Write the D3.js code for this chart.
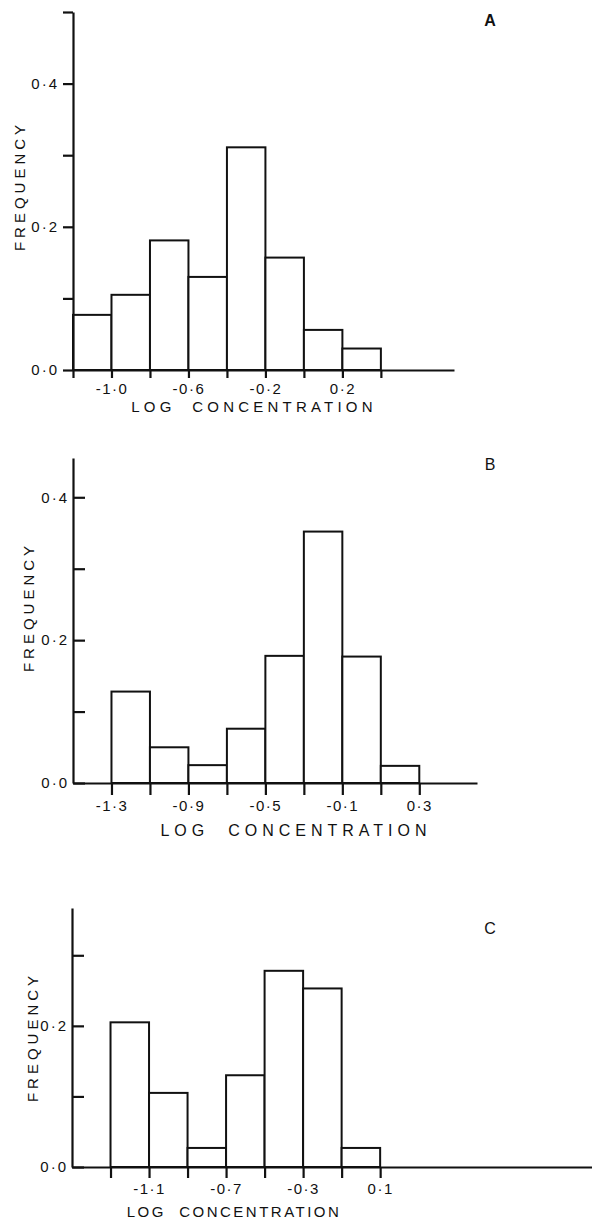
<!DOCTYPE html>
<html>
<head>
<meta charset="utf-8">
<script src="https://cdn.jsdelivr.net/npm/d3@7"></script>
<style>
  body { margin: 0; background: #fff; }
  svg { display: block; font-family: "Liberation Sans", Arial, sans-serif; }
  .axis path, .axis line { stroke: #111; stroke-width: 2.2; }
  .axis text { fill: #111; font-size: 15px; letter-spacing: 1.5px; }
</style>
</head>
<body>
<script>
// bin width of every histogram (log units)
const binWidth = 0.2;

// panel A
const binStartA = [-1.2, -1.0, -0.8, -0.6, -0.4, -0.2, 0.0, 0.2];
const freqA = [0.077, 0.105, 0.181, 0.130, 0.311, 0.157, 0.056, 0.030];
const xLabelsA = [-1.0, -0.6, -0.2, 0.2];
const yTicksA = [0, 0.1, 0.2, 0.3, 0.4, 0.5];
const yLabelsA = [0, 0.2, 0.4];

// panel B
const binStartB = [-1.3, -1.1, -0.9, -0.7, -0.5, -0.3, -0.1, 0.1];
const freqB = [0.128, 0.050, 0.025, 0.076, 0.178, 0.352, 0.177, 0.024];
const xLabelsB = [-1.3, -0.9, -0.5, -0.1, 0.3];
const yTicksB = [0, 0.1, 0.2, 0.3, 0.4];
const yLabelsB = [0, 0.2, 0.4];

// panel C
const binStartC = [-1.3, -1.1, -0.9, -0.7, -0.5, -0.3, -0.1];
const freqC = [0.205, 0.105, 0.027, 0.130, 0.278, 0.253, 0.027];
const xLabelsC = [-1.1, -0.7, -0.3, 0.1];
const yTicksC = [0, 0.1, 0.2, 0.3];
const yLabelsC = [0, 0.2];

const W = 592, H = 1222;
const svg = d3.select('body').append('svg').attr('width', W).attr('height', H);

const fmt = (d) => (d < 0 ? '-' : '') + Math.abs(d).toFixed(1).replace('.', '·');
const same = (a, b) => Math.abs(a - b) < 1e-6;

function drawPanel(p) {
  const g = svg.append('g');
  const x = d3.scaleLinear().domain(p.xDomain).range([p.left, p.right]);
  const y = d3.scaleLinear().domain(p.yDomain).range([p.bottom, p.top]);

  // bars
  g.selectAll('rect.bar')
    .data(p.starts.map((s, i) => ({ s: s, f: p.freq[i] })))
    .enter()
    .append('rect')
    .attr('class', 'bar')
    .attr('x', (d) => x(d.s))
    .attr('width', (d) => x(d.s + binWidth) - x(d.s))
    .attr('y', (d) => y(d.f))
    .attr('height', (d) => y(0) - y(d.f))
    .attr('fill', '#fff')
    .attr('stroke', '#111')
    .attr('stroke-width', 2);

  // x axis, a tick at every bin edge
  const edges = p.starts.concat([p.starts[p.starts.length - 1] + binWidth]);
  const xAxis = d3.axisBottom(x)
    .tickValues(edges)
    .tickSizeInner(p.xTick)
    .tickSizeOuter(0)
    .tickPadding(5)
    .tickFormat((d) => (p.xLabels.some((v) => same(v, d)) ? fmt(d) : ''));
  g.append('g').attr('class', 'axis')
    .attr('transform', `translate(0,${p.bottom})`)
    .call(xAxis)
    .selectAll('text').attr('font-size', p.tickFont);

  // y axis
  const yAxis = d3.axisLeft(y)
    .tickValues(p.yTicks)
    .tickSizeInner(p.yTick)
    .tickSizeOuter(0)
    .tickPadding(4)
    .tickFormat((d) => (p.yLabels.some((v) => same(v, d)) ? fmt(d) : ''));
  g.append('g').attr('class', 'axis')
    .attr('transform', `translate(${p.left},0)`)
    .call(yAxis)
    .selectAll('text').attr('font-size', p.tickFont).style('letter-spacing', '2px');

  // titles
  g.append('text')
    .attr('transform', `translate(${p.yTitleX},${p.yTitleY}) rotate(-90)`)
    .attr('text-anchor', 'middle')
    .attr('font-size', 15)
    .attr('letter-spacing', 4)
    .attr('fill', '#111')
    .text('FREQUENCY');

  g.append('text')
    .attr('x', p.xTitleX)
    .attr('y', p.xTitleY)
    .attr('text-anchor', 'middle')
    .attr('font-size', p.titleFont)
    .attr('letter-spacing', p.titleSpacing)
    .attr('fill', '#111')
    .style('white-space', 'pre')
    .text('LOG  CONCENTRATION');

  g.append('text')
    .attr('x', 490)
    .attr('y', p.labelY)
    .attr('text-anchor', 'middle')
    .attr('font-size', 16)
    .attr('font-weight', p.labelBold ? 'bold' : 'normal')
    .attr('fill', '#111')
    .text(p.label);
}

drawPanel({
  starts: binStartA, freq: freqA, xLabels: xLabelsA, yTicks: yTicksA, yLabels: yLabelsA,
  xDomain: [-1.2, 0.78], yDomain: [0, 0.5],
  left: 73, right: 454, top: 12, bottom: 370,
  xTick: 8, yTick: 10, tickFont: 15,
  yTitleX: 25, yTitleY: 186, xTitleX: 254, xTitleY: 412,
  titleFont: 15, titleSpacing: 4.2,
  label: 'A', labelY: 26, labelBold: true
});

drawPanel({
  starts: binStartB, freq: freqB, xLabels: xLabelsB, yTicks: yTicksB, yLabels: yLabelsB,
  xDomain: [-1.5, 0.6], yDomain: [0, 0.455],
  left: 73, right: 477, top: 458, bottom: 783,
  xTick: 12, yTick: -12, tickFont: 15,
  yTitleX: 34, yTitleY: 607, xTitleX: 296, xTitleY: 836,
  titleFont: 16, titleSpacing: 5,
  label: 'B', labelY: 470, labelBold: false
});

drawPanel({
  starts: binStartC, freq: freqC, xLabels: xLabelsC, yTicks: yTicksC, yLabels: yLabelsC,
  xDomain: [-1.5, 1.2], yDomain: [0, 0.367],
  left: 72, right: 592, top: 908, bottom: 1167,
  xTick: 11, yTick: -12, tickFont: 15,
  yTitleX: 38, yTitleY: 1037, xTitleX: 234, xTitleY: 1217,
  titleFont: 15, titleSpacing: 2.5,
  label: 'C', labelY: 934, labelBold: false
});
</script>
</body>
</html>
